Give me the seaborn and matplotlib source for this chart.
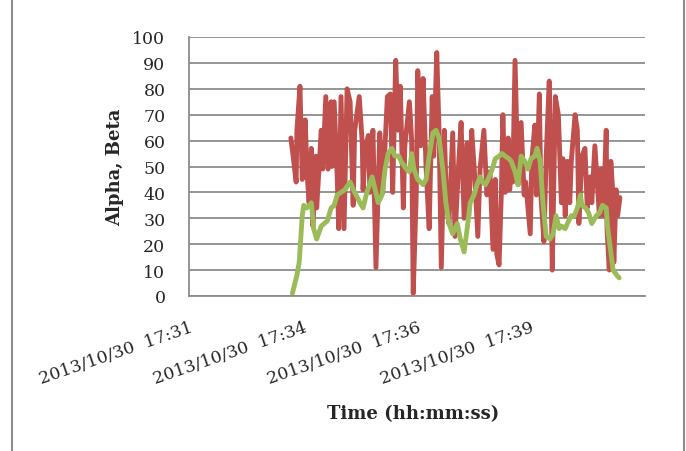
import matplotlib
matplotlib.use("Agg")
import matplotlib.pyplot as plt
import seaborn as sns
import pandas as pd
from matplotlib.lines import Line2D

# seconds after 2013/10/30 17:31:00
alpha_t = [134, 137, 141, 142, 146, 149, 153, 155, 158, 161, 163, 167, 168, 174, 176, 180, 183, 187, 188, 191,
           195, 197, 200, 204, 208, 212, 216, 218, 224, 228, 229, 232, 236, 238, 242, 246, 251, 255, 261, 265,
           268, 272, 275, 278, 282, 284, 290, 293, 295, 299, 301, 305, 308, 312, 316, 320, 322, 326, 329, 332,
           336, 338, 342, 347, 350, 355, 358, 362, 366, 368, 372, 376, 380, 383, 388, 392, 396, 400, 403, 405,
           408, 411, 413, 416, 420, 422, 424, 426, 429, 433, 437, 441, 443, 449, 451, 455, 457, 461, 463, 467,
           470, 474, 476, 478, 482, 486, 490, 492, 495, 498, 501, 503, 508, 511, 513, 517, 521, 524, 528, 530,
           534, 540, 542, 545, 549, 550, 553, 555, 557, 559, 562, 564, 567]
alpha_v = [61, 54, 44, 64, 81, 45, 68, 49, 36, 57, 27, 54, 34, 64, 49, 77, 49, 75, 50, 75,
           46, 26, 77, 26, 80, 75, 35, 64, 77, 59, 41, 57, 62, 40, 64, 11, 63, 40, 77, 78,
           40, 91, 64, 81, 34, 58, 75, 60, 1, 39, 87, 58, 84, 49, 26, 77, 54, 94, 64, 11,
           64, 43, 28, 63, 23, 52, 67, 30, 59, 31, 64, 46, 23, 49, 64, 39, 48, 18, 45, 16,
           12, 40, 70, 40, 61, 41, 52, 44, 91, 43, 67, 39, 44, 24, 52, 66, 39, 78, 39, 21,
           54, 83, 52, 10, 77, 70, 36, 53, 31, 52, 36, 52, 70, 64, 28, 54, 57, 34, 46, 36,
           58, 31, 49, 31, 64, 26, 10, 52, 43, 13, 41, 31, 38]

beta_t = [136, 142, 145, 149, 151, 155, 161, 164, 168, 174, 178, 182, 187, 191, 195, 200, 205, 212, 218, 225,
          229, 234, 241, 245, 249, 254, 258, 262, 267, 271, 276, 279, 286, 290, 293, 296, 301, 308, 312, 316,
          321, 325, 329, 334, 338, 342, 347, 353, 357, 362, 366, 370, 375, 379, 383, 386, 390, 395, 399, 403,
          408, 412, 416, 421, 424, 429, 433, 437, 442, 446, 450, 455, 458, 462, 466, 470, 475, 479, 483, 487,
          490, 495, 498, 503, 507, 511, 515, 517, 522, 526, 530, 536, 540, 544, 549, 551, 555, 558, 563, 566]
beta_v = [1, 8, 13, 31, 35, 34, 36, 26, 22, 27, 28, 29, 34, 35, 39, 40, 41, 44, 40, 36,
          34, 40, 46, 41, 36, 39, 49, 55, 57, 54, 54, 52, 49, 48, 55, 49, 45, 43, 45, 54,
          63, 64, 61, 49, 36, 28, 24, 28, 22, 17, 26, 36, 39, 43, 46, 44, 43, 46, 49, 53,
          54, 55, 54, 53, 52, 48, 43, 54, 52, 49, 53, 54, 57, 52, 35, 23, 22, 24, 31, 26,
          27, 26, 28, 31, 31, 34, 39, 35, 34, 32, 28, 31, 32, 35, 34, 26, 17, 10, 8, 7]

tick_secs = [0, 150, 300, 450]
tick_labels = ["2013/10/30  17:31", "2013/10/30  17:34", "2013/10/30  17:36", "2013/10/30  17:39"]

df = pd.concat([
    pd.DataFrame({"t": alpha_t, "v": alpha_v, "s": "Alpha"}),
    pd.DataFrame({"t": beta_t, "v": beta_v, "s": "Beta"}),
], ignore_index=True)

sns.set_style("white")
plt.rcParams["font.family"] = ["DejaVu Serif", "Liberation Serif"]

fig = plt.figure(figsize=(6.86, 4.52), dpi=100)
ax = fig.add_axes([189/686, 1-297/452, (645-189)/686, (297-38)/452])

sns.lineplot(data=df, x="t", y="v", hue="s", palette={"Alpha": "#C0504D", "Beta": "#9BBB59"},
             estimator=None, sort=False, legend=False, linewidth=3.5, ax=ax,
             solid_capstyle="round", solid_joinstyle="round")

ax.set_xlim(0, 600)
ax.set_ylim(0, 100)
ax.set_yticks(range(0, 101, 10))
ax.set_xticks(tick_secs)
ax.set_xticklabels(tick_labels, rotation=19, ha="right", va="top", rotation_mode="anchor", fontsize=12.5)
ax.tick_params(axis="y", labelsize=12.5, length=0, pad=17)
ax.tick_params(axis="x", length=0, pad=16)
ax.yaxis.grid(True, color="#8c8c8c", linewidth=1.3)
ax.set_axisbelow(True)
for s in ["top", "right"]:
    ax.spines[s].set_visible(False)
for s in ["left", "bottom"]:
    ax.spines[s].set_color("#8c8c8c")
    ax.spines[s].set_linewidth(1.3)

ax.set_ylabel("Alpha, Beta", fontsize=13, fontweight="bold")
ax.yaxis.set_label_coords((115-189)/456, 0.5)
ax.set_xlabel("Time (hh:mm:ss)", fontsize=13, fontweight="bold")
ax.xaxis.set_label_coords((413-189)/456, 1-(414-38)/259)
ax.xaxis.label.set_va("center")
ax.yaxis.label.set_va("center")

fig.add_artist(Line2D([12/686, 12/686], [0, 1], color="#8c8c8c", linewidth=1.5))
fig.add_artist(Line2D([684/686, 684/686], [0, 1], color="#8c8c8c", linewidth=1.5))

fig.savefig("out.png", dpi=100)
